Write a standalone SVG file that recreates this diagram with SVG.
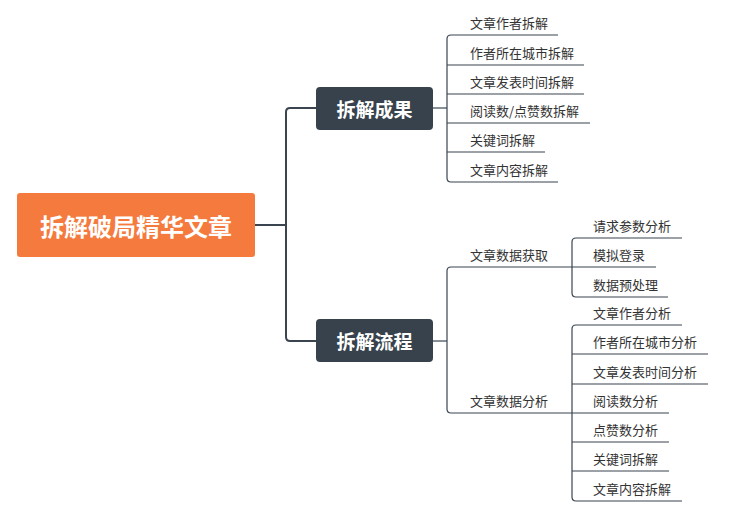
<svg xmlns="http://www.w3.org/2000/svg" width="747" height="515" viewBox="0 0 747 515">
<style>
.trunk{fill:none;stroke:#3A4550;stroke-width:2}
.leafl{fill:none;stroke:#3A4550;stroke-width:1.2}
.t{font-family:"Noto Sans CJK SC","Microsoft YaHei",sans-serif;font-size:13px;fill:#333}
.bt{font-family:"Noto Sans CJK SC",sans-serif;font-size:19px;font-weight:bold;fill:#fff;text-anchor:middle;dominant-baseline:central}
.rt{font-family:"Noto Sans CJK SC",sans-serif;font-size:24px;font-weight:bold;fill:#fff;text-anchor:middle;dominant-baseline:central}
</style>
<rect width="747" height="515" fill="#fff"/>
<g id="connectors">
<path class="trunk" d="M255,225 H286"/>
<path class="trunk" d="M316,108 H290 Q286,108 286,112 V337 Q286,341 290,341 H316"/>
<path class="leafl" d="M433,108 H447"/>
<path class="leafl" d="M558,35 H451 Q447,35 447,39 V178 Q447,182 451,182 H558"/>
<path class="leafl" d="M447,65 H584 M447,94 H584 M447,123 H590 M447,152 H545"/>
<path class="leafl" d="M433,341 H447"/>
<path class="leafl" d="M572,267 H451 Q447,267 447,271 V409 Q447,413 451,413 H572"/>
<path class="leafl" d="M682,238 H576 Q572,238 572,242 V293 Q572,297 576,297 H668 M572,267 H656"/>
<path class="leafl" d="M682,325 H576 Q572,325 572,329 V497 Q572,501 576,501 H682 M572,354 H708 M572,384 H708 M572,413 H669 M572,442 H669 M572,471 H669"/>
</g>
<g id="root"><rect x="17" y="193" width="238" height="64" rx="3" fill="#F57A3D"/><text class="rt" x="136" y="225">拆解破局精华文章</text></g>
<g id="b1"><rect x="316" y="87" width="117" height="43" rx="4" fill="#37424C"/><text class="bt" x="374.5" y="108">拆解成果</text></g>
<g id="b2"><rect x="316" y="319" width="117" height="43" rx="4" fill="#37424C"/><text class="bt" x="374.5" y="340">拆解流程</text></g>
<g id="l1"><text class="t" x="470" y="28">文章作者拆解</text></g>
<g id="l2"><text class="t" x="470" y="58">作者所在城市拆解</text></g>
<g id="l3"><text class="t" x="470" y="87">文章发表时间拆解</text></g>
<g id="l4"><text class="t" x="470" y="116">阅读数/点赞数拆解</text></g>
<g id="l5"><text class="t" x="470" y="145">关键词拆解</text></g>
<g id="l6"><text class="t" x="470" y="175">文章内容拆解</text></g>
<g id="s1"><text class="t" x="470" y="260">文章数据获取</text></g>
<g id="s2"><text class="t" x="470" y="406">文章数据分析</text></g>
<g id="s1a"><text class="t" x="593" y="231">请求参数分析</text></g>
<g id="s1b"><text class="t" x="593" y="260">模拟登录</text></g>
<g id="s1c"><text class="t" x="593" y="290">数据预处理</text></g>
<g id="s2a"><text class="t" x="593" y="318">文章作者分析</text></g>
<g id="s2b"><text class="t" x="593" y="347">作者所在城市分析</text></g>
<g id="s2c"><text class="t" x="593" y="377">文章发表时间分析</text></g>
<g id="s2d"><text class="t" x="593" y="406">阅读数分析</text></g>
<g id="s2e"><text class="t" x="593" y="435">点赞数分析</text></g>
<g id="s2f"><text class="t" x="593" y="464">关键词拆解</text></g>
<g id="s2g"><text class="t" x="593" y="494">文章内容拆解</text></g>
</svg>
